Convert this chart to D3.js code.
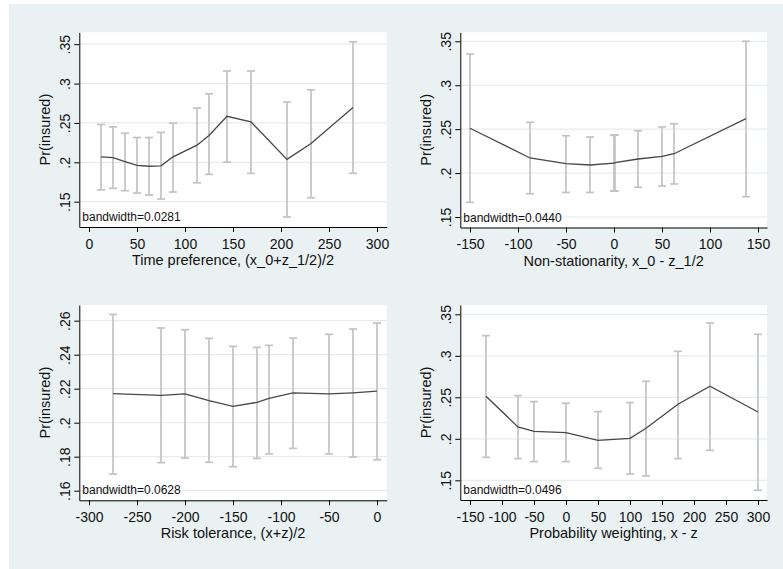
<!DOCTYPE html>
<html>
<head>
<meta charset="utf-8">
<script src="https://cdn.jsdelivr.net/npm/d3@7"></script>
<style>
  body { margin: 0; background: #fff; }
  svg { display: block; font-family: 'Liberation Sans', Arial, sans-serif; }
</style>
</head>
<body>
<svg id="chart" width="783" height="569"></svg>
<script>
// time preference panel
const tpX = [12.5, 25, 37.5, 50, 62.5, 75, 87.5, 112.5, 125, 143.75, 168.75, 206.25, 231.25, 275]
const tpFit = [0.207, 0.206, 0.201, 0.196, 0.195, 0.1956, 0.207, 0.2218, 0.234, 0.2585, 0.2513, 0.2037, 0.224, 0.2695]
const tpLo = [0.165, 0.167, 0.164, 0.161, 0.1585, 0.1534, 0.1623, 0.174, 0.1847, 0.2003, 0.186, 0.1306, 0.155, 0.186]
const tpHi = [0.248, 0.245, 0.237, 0.2315, 0.2315, 0.238, 0.2497, 0.269, 0.287, 0.316, 0.316, 0.2766, 0.292, 0.353]

// non-stationarity panel
const nsX = [-150, -87.5, -50, -25, 0, 1, 25, 50, 62.5, 137.5]
const nsFit = [0.251, 0.2172, 0.2107, 0.2092, 0.2112, 0.2118, 0.216, 0.219, 0.222, 0.2619]
const nsLo = [0.1667, 0.1765, 0.178, 0.178, 0.1794, 0.1798, 0.1838, 0.1853, 0.1876, 0.1731]
const nsHi = [0.3355, 0.2578, 0.2425, 0.241, 0.243, 0.2435, 0.2482, 0.2525, 0.2562, 0.35]

// risk tolerance panel
const rtX = [-275, -225, -200, -175, -150, -125, -112.5, -87.5, -50, -25, 0]
const rtFit = [0.2171, 0.2161, 0.2169, 0.213, 0.2096, 0.212, 0.2143, 0.2175, 0.2169, 0.2176, 0.2186]
const rtLo = [0.1698, 0.1765, 0.1792, 0.1767, 0.1741, 0.179, 0.1816, 0.1849, 0.1816, 0.1798, 0.1782]
const rtHi = [0.2637, 0.2557, 0.2547, 0.2496, 0.2449, 0.2443, 0.2455, 0.2498, 0.252, 0.2551, 0.2586]

// probability weighting panel
const pwX = [-125, -75, -50, 0, 50, 100, 125, 175, 225, 300]
const pwFit = [0.2512, 0.2143, 0.209, 0.2074, 0.1982, 0.2006, 0.2127, 0.2416, 0.2633, 0.2323]
const pwLo = [0.1777, 0.1761, 0.1725, 0.1725, 0.1645, 0.1576, 0.1552, 0.1761, 0.1861, 0.138]
const pwHi = [0.3243, 0.252, 0.2448, 0.2428, 0.2327, 0.2436, 0.2693, 0.3054, 0.3396, 0.3259]

// axis ticks
const tpXTicks = [0, 50, 100, 150, 200, 250, 300]
const nsXTicks = [-150, -100, -50, 0, 50, 100, 150]
const rtXTicks = [-300, -250, -200, -150, -100, -50, 0]
const pwXTicks = [-150, -100, -50, 0, 50, 100, 150, 200, 250, 300]
const probYTicks = [0.15, 0.2, 0.25, 0.3, 0.35]
const rtYTicks = [0.16, 0.18, 0.2, 0.22, 0.24, 0.26]

const bandwidths = ['0.0281', '0.0440', '0.0628', '0.0496']
const xTitles = [
  'Time preference, (x_0+z_1/2)/2',
  'Non-stationarity, x_0 - z_1/2',
  'Risk tolerance, (x+z)/2',
  'Probability weighting, x - z'
]
const yTitle = 'Pr(insured)'

const svg = d3.select('#chart')

svg.append('rect')
  .attr('x', 9).attr('y', 4)
  .attr('width', 783 - 9).attr('height', 569 - 4)
  .attr('fill', '#eaf1f3')

// plot boxes plus where the first/last ticks land
const panels = [
  { box: [79.3, 32.3, 386.7, 227], xa: [89, 377], ya: [44.2, 201.7],
    x: tpX, fit: tpFit, lo: tpLo, hi: tpHi, xTicks: tpXTicks, yTicks: probYTicks },
  { box: [460.3, 32.3, 767, 227.5], xa: [470, 758], ya: [41.3, 217],
    x: nsX, fit: nsFit, lo: nsLo, hi: nsHi, xTicks: nsXTicks, yTicks: probYTicks },
  { box: [79.3, 305, 386.7, 500.3], xa: [89, 377], ya: [320.7, 490.7],
    x: rtX, fit: rtFit, lo: rtLo, hi: rtHi, xTicks: rtXTicks, yTicks: rtYTicks },
  { box: [460.3, 305, 767, 500], xa: [470, 758], ya: [314.3, 480.3],
    x: pwX, fit: pwFit, lo: pwLo, hi: pwHi, xTicks: pwXTicks, yTicks: probYTicks }
]

const fmtY = v => d3.format('.2~f')(v).replace(/^0\./, '.')
const fmtX = v => String(v)

panels.forEach(function(p, i) {
  const [left, top, right, bottom] = p.box
  const g = svg.append('g')

  const xt = p.xTicks
  const yt = p.yTicks
  const x0 = d3.scaleLinear().domain([xt[0], xt[xt.length - 1]]).range(p.xa)
  const y0 = d3.scaleLinear().domain([yt[yt.length - 1], yt[0]]).range(p.ya)
  const x = d3.scaleLinear().domain([x0.invert(left), x0.invert(right)]).range([left, right])
  const y = d3.scaleLinear().domain([y0.invert(bottom), y0.invert(top)]).range([bottom, top])

  g.append('rect')
    .attr('x', left).attr('y', top)
    .attr('width', right - left).attr('height', bottom - top)
    .attr('fill', 'white')

  g.selectAll('.grid')
    .data(yt)
    .enter()
    .append('line')
    .attr('class', 'grid')
    .attr('x1', left).attr('x2', right)
    .attr('y1', d => y(d)).attr('y2', d => y(d))
    .attr('stroke', '#e3ecef')
    .attr('stroke-width', 1.2)

  const rows = p.x.map((v, j) => ({ x: v, fit: p.fit[j], lo: p.lo[j], hi: p.hi[j] }))

  const bars = g.selectAll('.bar')
    .data(rows)
    .enter()
    .append('g')
    .attr('class', 'bar')
    .attr('stroke', '#c3c3c3')
    .attr('stroke-width', 1.7)
  bars.append('line')
    .attr('x1', d => x(d.x)).attr('x2', d => x(d.x))
    .attr('y1', d => y(d.lo)).attr('y2', d => y(d.hi))
  bars.append('line')
    .attr('x1', d => x(d.x) - 4).attr('x2', d => x(d.x) + 4)
    .attr('y1', d => y(d.lo)).attr('y2', d => y(d.lo))
  bars.append('line')
    .attr('x1', d => x(d.x) - 4).attr('x2', d => x(d.x) + 4)
    .attr('y1', d => y(d.hi)).attr('y2', d => y(d.hi))

  const line = d3.line().x(d => x(d.x)).y(d => y(d.fit))
  g.append('path')
    .datum(rows)
    .attr('d', line)
    .attr('fill', 'none')
    .attr('stroke', '#474747')
    .attr('stroke-width', 1.3)

  const xAxis = g.append('g')
    .attr('transform', 'translate(0,' + bottom + ')')
    .call(d3.axisBottom(x).tickValues(xt).tickSize(5).tickSizeOuter(0).tickPadding(7).tickFormat(fmtX))
  xAxis.selectAll('text')
    .attr('font-size', 14)
    .attr('font-family', "'Liberation Sans', Arial, sans-serif")
    .attr('fill', '#111')

  const yAxis = g.append('g')
    .attr('transform', 'translate(' + left + ',0)')
    .call(d3.axisLeft(y).tickValues(yt).tickSize(5).tickSizeOuter(0).tickFormat(fmtY))
  yAxis.selectAll('text')
    .attr('x', null).attr('dy', null).attr('y', null)
    .attr('transform', 'translate(-9.5,0) rotate(-90)')
    .attr('text-anchor', 'middle')
    .attr('font-size', 14)
    .attr('font-family', "'Liberation Sans', Arial, sans-serif")
    .attr('fill', '#111')

  g.selectAll('.domain, .tick line').attr('stroke', '#000')

  g.append('text')
    .text('bandwidth=' + bandwidths[i])
    .attr('x', left + 3)
    .attr('y', bottom - 6)
    .attr('font-size', 12)
    .attr('fill', '#111')

  g.append('text')
    .text(xTitles[i])
    .attr('x', (left + right) / 2)
    .attr('y', bottom + 38)
    .attr('text-anchor', 'middle')
    .attr('font-size', 14.5)
    .attr('fill', '#111')

  g.append('text')
    .text(yTitle)
    .attr('transform', 'translate(' + (left - 29) + ',' + (top + bottom) / 2 + ') rotate(-90)')
    .attr('text-anchor', 'middle')
    .attr('font-size', 14.5)
    .attr('fill', '#111')
})
</script>
</body>
</html>
